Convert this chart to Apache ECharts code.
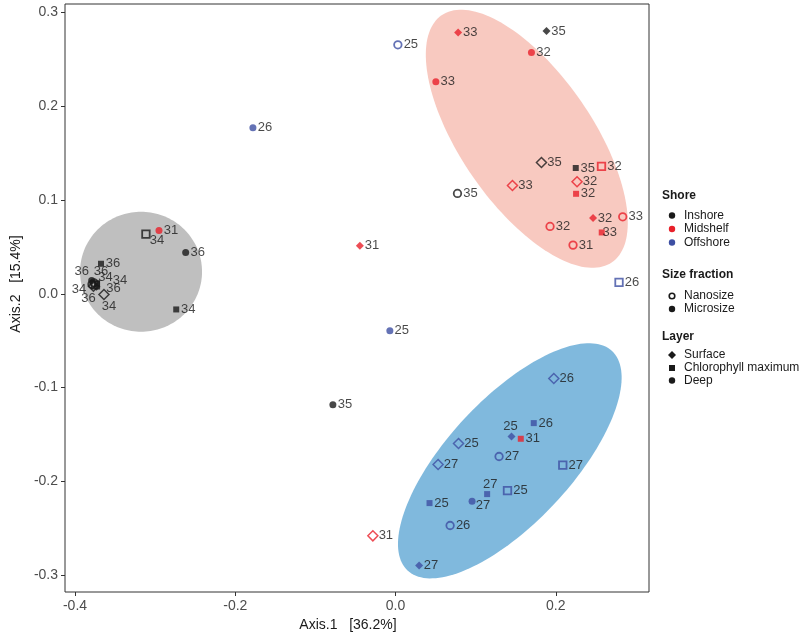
<!DOCTYPE html>
<html><head><meta charset="utf-8">
<script src="https://cdn.jsdelivr.net/npm/echarts@6/dist/echarts.min.js"></script>
<style>html,body{margin:0;padding:0;background:#fff}#c{width:800px;height:635px}</style>
</head><body><div id="c"></div>
<script>
// ---- data ----
const sampleX = [
  -0.3115,-0.2619,-0.3676,-0.3792,-0.3763,-0.3745,-0.3726,-0.3788,-0.3732,-0.3770,-0.3639,-0.2737,0.1884,0.1821,0.2249,0.0773,-0.0782,
  -0.2952,0.0781,0.1696,0.0503,0.2570,0.2265,0.1459,0.2253,0.2465,0.2835,0.1928,0.2573,0.2215,-0.0445,0.1563,-0.0283,
  0.0029,-0.1780,-0.0071,0.2789,0.1975,0.1725,0.1447,0.0786,0.1292,0.0531,0.2087,0.1143,0.1397,0.0424,0.0955,0.0681,0.0294
];
const sampleY = [
  0.0637,0.0440,0.0320,0.0142,0.0117,0.0096,0.0107,0.0101,0.0075,0.0080,-0.0007,-0.0167,0.2802,0.1400,0.1341,0.1070,-0.1184,
  0.0675,0.2787,0.2573,0.2261,0.1358,0.1194,0.1155,0.1066,0.0807,0.0821,0.0718,0.0654,0.0519,0.0512,-0.1546,-0.2581,
  0.2655,0.1770,-0.0395,0.0121,-0.0903,-0.1379,-0.1522,-0.1596,-0.1735,-0.1820,-0.1827,-0.2136,-0.2098,-0.2232,-0.2211,-0.2471,-0.2898
];
const sampleShore = [
  'Inshore','Inshore','Inshore','Inshore','Inshore','Inshore','Inshore','Inshore','Inshore','Inshore','Inshore','Inshore','Inshore','Inshore','Inshore','Inshore','Inshore',
  'Midshelf','Midshelf','Midshelf','Midshelf','Midshelf','Midshelf','Midshelf','Midshelf','Midshelf','Midshelf','Midshelf','Midshelf','Midshelf','Midshelf','Midshelf','Midshelf',
  'Offshore','Offshore','Offshore','Offshore','Offshore','Offshore','Offshore','Offshore','Offshore','Offshore','Offshore','Offshore','Offshore','Offshore','Offshore','Offshore','Offshore'
];
const sampleSize = [
  'Nano','Micro','Micro','Micro','Nano','Nano','Micro','Nano','Micro','Nano','Nano','Micro','Micro','Nano','Micro','Nano','Micro',
  'Micro','Micro','Micro','Micro','Nano','Nano','Nano','Micro','Micro','Nano','Nano','Micro','Nano','Micro','Micro','Nano',
  'Nano','Micro','Micro','Nano','Nano','Micro','Micro','Nano','Nano','Nano','Nano','Micro','Nano','Micro','Micro','Nano','Micro'
];
const sampleLayer = [
  'Chl','Deep','Chl','Deep','Deep','Chl','Chl','Deep','Surface','Surface','Surface','Chl','Surface','Surface','Chl','Deep','Deep',
  'Deep','Surface','Deep','Deep','Chl','Surface','Surface','Chl','Surface','Deep','Deep','Chl','Deep','Surface','Chl','Surface',
  'Deep','Deep','Deep','Chl','Surface','Chl','Surface','Surface','Deep','Surface','Chl','Chl','Chl','Chl','Deep','Deep','Surface'
];
const sampleLabel = [
  '34','36','36','36','36','34','34','34','36','36','34','34','35','35','35','35','35',
  '31','33','32','33','32','32','33','32','32','33','32','33','31','31','31','31',
  '25','26','25','26','26','26','25','25','27','27','27','27','25','25','27','26','27'
];
const xTicks = [-0.4, -0.2, 0.0, 0.2];
const yTicks = [-0.3, -0.2, -0.1, 0.0, 0.1, 0.2, 0.3];
const xTickLabels = ['-0.4', '-0.2', '0.0', '0.2'];
const yTickLabels = ['-0.3', '-0.2', '-0.1', '0.0', '0.1', '0.2', '0.3'];
// group ellipses (centre + conjugate semi-axis vectors, data units)
const ellipseCx = [-0.3176, 0.1638, 0.1426];
const ellipseCy = [0.0235, 0.1653, -0.1781];
const ellipseUx = [0.0761, 0.1063, 0.1276];
const ellipseUy = [0.0, -0.1317, 0.1170];
const ellipseVx = [0.0, -0.0677, 0.0565];
const ellipseVy = [0.064, -0.0400, -0.0451];

// ---- styling / layout config ----
const shoreColor = {Inshore: '#1a1a1a', Midshelf: '#e8202a', Offshore: '#3d4fa3'};
const ellipseFill = ['#bfbfbf', '#f8c9c0', '#80b9dd'];
const labelOffsetOverride = {
  0: [11, 6], 3: [-10, -9], 4: [7, -11], 5: [10, -7], 6: [23, -3], 7: [-13, 5], 8: [17, 2], 9: [-5, 12],
  10: [5, 12], 28: [8, 0], 39: [-1, -10], 44: [3, -10], 47: [11, 4]
};

function symbolFor(size, layer) {
  const open = size === 'Nano';
  if (layer === 'Surface') return {symbol: 'diamond', symbolSize: open ? 10 : 8};
  if (layer === 'Chl') return {symbol: 'rect', symbolSize: open ? 7.5 : 6};
  return {symbol: 'circle', symbolSize: open ? 7.5 : 7};
}

const pointData = sampleX.map((x, i) => {
  const open = sampleSize[i] === 'Nano';
  const col = shoreColor[sampleShore[i]];
  const s = symbolFor(sampleSize[i], sampleLayer[i]);
  const off = labelOffsetOverride[i] || [open ? 13 : 12, 0];
  return {
    value: [x, sampleY[i]],
    name: sampleLabel[i],
    symbol: s.symbol,
    symbolSize: s.symbolSize,
    itemStyle: open ? {color: 'rgba(0,0,0,0)', borderColor: col, borderWidth: sampleLayer[i] === 'Surface' ? 1.5 : 1.8}
                    : {color: col, borderWidth: 0},
    label: {offset: off}
  };
});

const chart = echarts.init(document.getElementById('c'), null, {renderer: 'canvas'});
const FONT = 'Liberation Sans, Arial, Helvetica, sans-serif';

function legendGraphics() {
  const g = [];
  const tx = 684, sx = 672;
  const title = (t, y) => g.push({type: 'text', x: 662, y: y, style: {text: t, font: 'bold 12px ' + FONT, fill: '#1a1a1a', verticalAlign: 'middle', align: 'left'}});
  const item = (t, y) => g.push({type: 'text', x: tx, y: y, style: {text: t, font: '12px ' + FONT, fill: '#1a1a1a', verticalAlign: 'middle', align: 'left'}});
  title('Shore', 196);
  [['Inshore', 215.5, shoreColor.Inshore], ['Midshelf', 229, shoreColor.Midshelf], ['Offshore', 242.5, shoreColor.Offshore]].forEach(r => {
    g.push({type: 'circle', shape: {cx: sx, cy: r[1], r: 3.2}, style: {fill: r[2]}});
    item(r[0], r[1]);
  });
  title('Size fraction', 275);
  g.push({type: 'circle', shape: {cx: sx, cy: 296, r: 2.8}, style: {fill: 'none', stroke: '#1a1a1a', lineWidth: 1.6}});
  item('Nanosize', 296);
  g.push({type: 'circle', shape: {cx: sx, cy: 309, r: 3.2}, style: {fill: '#1a1a1a'}});
  item('Microsize', 309);
  title('Layer', 337);
  g.push({type: 'polygon', shape: {points: [[sx, 351], [sx + 4, 355], [sx, 359], [sx - 4, 355]]}, style: {fill: '#1a1a1a'}});
  item('Surface', 355);
  g.push({type: 'rect', shape: {x: sx - 3, y: 365, width: 6, height: 6}, style: {fill: '#1a1a1a'}});
  item('Chlorophyll maximum', 368);
  g.push({type: 'circle', shape: {cx: sx, cy: 380.5, r: 3.2}, style: {fill: '#1a1a1a'}});
  item('Deep', 380.5);
  return g;
}

chart.setOption({
  animation: false,
  backgroundColor: '#ffffff',
  textStyle: {fontFamily: FONT},
  grid: {left: 65, right: 151, top: 4, bottom: 43, show: true, borderColor: '#333', borderWidth: 1,
         backgroundColor: 'rgba(0,0,0,0)', containLabel: false, outerBoundsMode: 'none'},
  xAxis: {
    type: 'value', min: -0.4125, max: 0.3163,
    name: 'Axis.1   [36.2%]', nameLocation: 'middle', nameGap: 22,
    nameTextStyle: {fontSize: 14, color: '#1a1a1a', fontFamily: FONT, padding: [0, 18, 0, 0]},
    axisLine: {show: false, onZero: false},
    splitLine: {show: false},
    axisTick: {show: true, length: 4, lineStyle: {color: '#333'}, customValues: xTicks},
    axisLabel: {fontSize: 14, color: '#4d4d4d', margin: 7, customValues: xTicks,
                formatter: v => xTickLabels[xTicks.findIndex(t => Math.abs(t - v) < 1e-9)] ?? ''}
  },
  yAxis: {
    type: 'value', min: -0.318, max: 0.309,
    name: 'Axis.2   [15.4%]', nameLocation: 'middle', nameGap: 40,
    nameTextStyle: {fontSize: 14, color: '#1a1a1a', fontFamily: FONT, padding: [0, 0, 0, 28]},
    axisLine: {show: false, onZero: false},
    splitLine: {show: false},
    axisTick: {show: true, length: 4, lineStyle: {color: '#333'}, customValues: yTicks},
    axisLabel: {fontSize: 14, color: '#4d4d4d', margin: 7, customValues: yTicks,
                formatter: v => yTickLabels[yTicks.findIndex(t => Math.abs(t - v) < 1e-9)] ?? ''}
  },
  series: [
    {
      type: 'custom', z: 1, silent: true,
      data: ellipseCx.map((x, i) => [x, ellipseCy[i]]),
      renderItem: (params, api) => {
        const i = params.dataIndex;
        const pts = [];
        for (let k = 0; k < 160; k++) {
          const t = 2 * Math.PI * k / 160;
          const c = Math.cos(t), s = Math.sin(t);
          pts.push(api.coord([ellipseCx[i] + c * ellipseUx[i] + s * ellipseVx[i],
                              ellipseCy[i] + c * ellipseUy[i] + s * ellipseVy[i]]));
        }
        return {type: 'polygon', shape: {points: pts}, style: {fill: ellipseFill[i]}};
      }
    },
    {
      type: 'scatter', z: 3,
      data: pointData,
      label: {show: true, position: 'inside', align: 'center', verticalAlign: 'middle',
              formatter: p => p.name, fontSize: 13, color: '#1a1a1a', fontFamily: FONT}
    }
  ],
  graphic: legendGraphics()
});
</script></body></html>
